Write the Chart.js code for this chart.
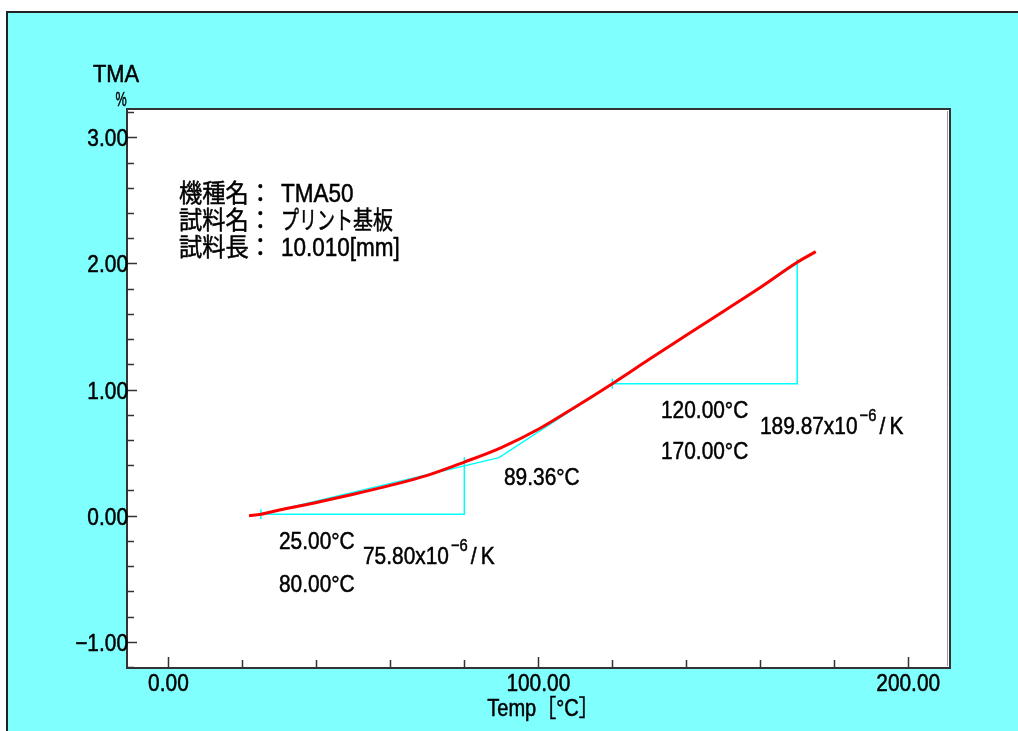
<!DOCTYPE html>
<html>
<head>
<meta charset="utf-8">
<script src="https://cdn.jsdelivr.net/npm/chart.js@4.4.0/dist/chart.umd.min.js"></script>
<style>
  html, body { margin: 0; padding: 0; background: #fff; }
  canvas { display: block; }
</style>
</head>
<body>
<canvas id="tmaChart" width="1018" height="731"></canvas>
<script>
// measured TMA curve (temperature in C, expansion in %)
const tempC  = [21.8, 25, 30, 40, 50, 60, 70, 80, 90, 100, 110, 120, 130, 140, 150, 160, 170, 175];
const tmaPct = [0.0, 0.011, 0.045, 0.105, 0.17, 0.24, 0.32, 0.425, 0.54, 0.685, 0.862, 1.047, 1.24, 1.43, 1.62, 1.81, 2.01, 2.094];

// analysis lines (cyan)
const tangentT = [25, 89.36, 120, 170];
const tangentV = [0.011, 0.46, 1.047, 2.0];
const range1T = [25, 80, 80];
const range1V = [0.011, 0.011, 0.463];
const range2T = [120, 170, 170];
const range2V = [1.047, 1.047, 2.033];
const markT = [25, 120];
const markV = [0.011, 1.047];

// axes
const xTicks = [0, 100, 200];
const xTickLabels = ['0.00', '100.00', '200.00'];
const yTicks = [-1, 0, 1, 2, 3];
const yTickLabels = ['\u22121.00', '0.00', '1.00', '2.00', '3.00'];
const xMinor = 20;
const yMinor = 0.2;

// texts
const infoLabels = ['機種名：', '試料名：', '試料長：'];
const infoValues = ['TMA50', ['プリント', '基板'], '10.010[mm]'];
const range1Labels = ['25.00°C', '80.00°C', '75.80'];
const range2Labels = ['120.00°C', '170.00°C', '189.87'];
const kinkLabel = '89.36°C';

const FONT = '"Liberation Sans", "Noto Sans CJK JP", sans-serif';
const CYAN = '#00ffff';
const SX = 0.87; // condensed look of the instrument font

function pts(xs, ys) {
  return xs.map((x, i) => ({ x: x, y: ys[i] }));
}

// draw text squeezed horizontally, return drawn width
function txt(ctx, s, x, y, size, align, sx) {
  sx = sx || SX;
  ctx.save();
  ctx.font = size + 'px ' + FONT;
  const w = ctx.measureText(s).width * sx;
  ctx.translate(x, y);
  ctx.scale(sx, 1);
  ctx.textAlign = align || 'left';
  ctx.fillStyle = '#000';
  ctx.strokeStyle = '#000';
  ctx.lineWidth = 0.5;
  ctx.fillText(s, 0, 0);
  ctx.strokeText(s, 0, 0);
  ctx.restore();
  return w;
}

function coef(ctx, x, y, val) {
  let w = txt(ctx, val + 'x10', x, y, 24);
  w += txt(ctx, '\u22126', x + w + 2, y - 13, 17) + 5;
  txt(ctx, '/', x + w, y, 24);
  txt(ctx, 'K', x + w + 10, y, 24);
}

const frame = {
  id: 'frame',
  beforeDraw(chart) {
    const ctx = chart.ctx, a = chart.chartArea;
    ctx.save();
    ctx.fillStyle = '#fff';
    ctx.fillRect(0, 0, chart.width, chart.height);
    ctx.fillStyle = '#80ffff';
    ctx.fillRect(7, 12, chart.width, chart.height);
    ctx.strokeStyle = '#222';
    ctx.lineWidth = 2;
    ctx.beginPath();
    ctx.moveTo(7, chart.height);
    ctx.lineTo(7, 12);
    ctx.lineTo(chart.width, 12);
    ctx.stroke();
    ctx.fillStyle = '#fff';
    ctx.fillRect(a.left, a.top, a.right - a.left, a.bottom - a.top);
    ctx.restore();
  },
  afterDraw(chart) {
    const ctx = chart.ctx, a = chart.chartArea;
    const xs = chart.scales.x, ys = chart.scales.y;
    ctx.save();
    ctx.strokeStyle = '#333';
    ctx.lineWidth = 2;
    ctx.strokeRect(a.left, a.top, a.right - a.left, a.bottom - a.top);
    ctx.strokeStyle = '#999';
    ctx.lineWidth = 1;
    ctx.beginPath();
    ctx.moveTo(a.right - 2.5, a.top + 2);
    ctx.lineTo(a.right - 2.5, a.bottom - 2);
    ctx.stroke();

    // ticks
    ctx.strokeStyle = '#333';
    ctx.lineWidth = 1.5;
    ctx.beginPath();
    for (let v = 0; v <= 200.001; v += xMinor) {
      const px = Math.round(xs.getPixelForValue(v)) + 0.5;
      const len = xTicks.includes(Math.round(v)) ? 11 : 8;
      ctx.moveTo(px, a.bottom);
      ctx.lineTo(px, a.bottom - len);
    }
    for (let i = -6; i <= 16; i++) {
      const v = i * yMinor;
      const py = Math.round(ys.getPixelForValue(v)) + 0.5;
      const len = (i % 5 === 0) ? 10 : 7;
      ctx.moveTo(a.left, py);
      ctx.lineTo(a.left + len, py);
    }
    ctx.stroke();

    // tick labels
    xTicks.forEach((v, i) => txt(ctx, xTickLabels[i], xs.getPixelForValue(v), a.bottom + 23, 24, 'center'));
    yTicks.forEach((v, i) => txt(ctx, yTickLabels[i], a.left + 1, ys.getPixelForValue(v) + 9, 24, 'right'));

    // axis titles
    txt(ctx, 'TMA', 116, 82, 23, 'center', 0.95);
    txt(ctx, '%', 121, 106, 21, 'center', 0.6);
    txt(ctx, 'Temp［°C］', xs.getPixelForValue(100) - 51, 716, 23, 'left');

    // sample info
    infoLabels.forEach((lbl, i) => {
      const y = 202 + i * 27;
      txt(ctx, lbl, 179, y, 25, 'left', 0.93);
      const val = infoValues[i];
      if (Array.isArray(val)) {
        const w = txt(ctx, val[0], 281, y, 25, 'left', 0.72);
        txt(ctx, val[1], 281 + w, y, 25, 'left', 0.8);
      } else {
        txt(ctx, val, 281, y, 25, 'left', 0.9);
      }
    });

    // analysis labels
    txt(ctx, range1Labels[0], 279, 549, 24);
    txt(ctx, range1Labels[1], 279, 592, 24);
    coef(ctx, 363, 564, range1Labels[2]);
    txt(ctx, kinkLabel, 504, 485, 24);
    txt(ctx, range2Labels[0], 661, 418, 24);
    txt(ctx, range2Labels[1], 661, 459, 24);
    coef(ctx, 760, 434, range2Labels[2]);
    ctx.restore();
  }
};

const lineBase = { showLine: true, pointRadius: 0, fill: false };

new Chart(document.getElementById('tmaChart'), {
  type: 'scatter',
  data: {
    datasets: [
      Object.assign({ data: pts(tempC, tmaPct), borderColor: '#ff0000', borderWidth: 3, cubicInterpolationMode: 'monotone' }, lineBase),
      Object.assign({ data: pts(tangentT, tangentV), borderColor: CYAN, borderWidth: 1.5 }, lineBase),
      Object.assign({ data: pts(range1T, range1V), borderColor: CYAN, borderWidth: 1.5 }, lineBase),
      Object.assign({ data: pts(range2T, range2V), borderColor: CYAN, borderWidth: 1.5 }, lineBase),
      { data: pts(markT, markV), showLine: false, pointStyle: 'line', rotation: 90, pointRadius: 5, borderColor: CYAN, borderWidth: 1.5 }
    ]
  },
  options: {
    responsive: false,
    animation: false,
    layout: { padding: { left: 127, top: 109, right: 68, bottom: 63 } },
    plugins: { legend: { display: false }, tooltip: { enabled: false } },
    scales: {
      x: { type: 'linear', min: -11.2, max: 211.3, display: false },
      y: { type: 'linear', min: -1.208, max: 3.225, display: false }
    }
  },
  plugins: [frame]
});
</script>
</body>
</html>
